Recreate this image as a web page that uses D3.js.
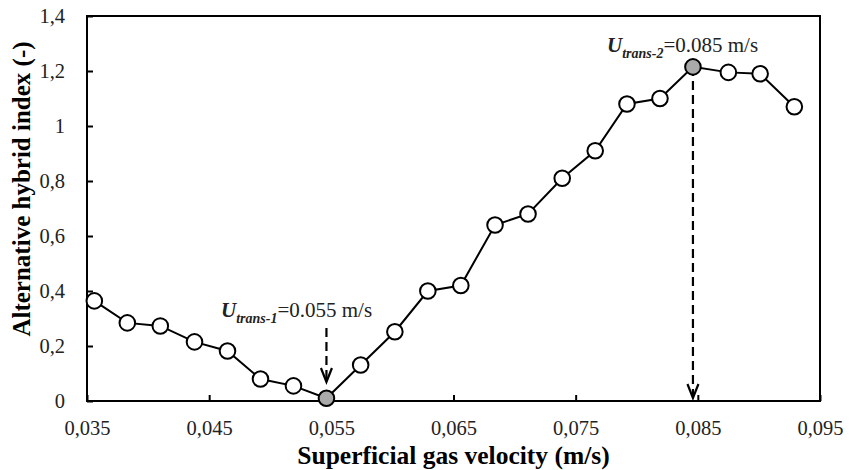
<!DOCTYPE html>
<html>
<head>
<meta charset="utf-8">
<script src="https://cdn.jsdelivr.net/npm/d3@7"></script>
<style>
  html, body { margin: 0; padding: 0; background: #fff; }
  svg { display: block; font-family: "Liberation Serif", "Times New Roman", serif; }
</style>
</head>
<body>
<svg id="chart" width="857" height="470"></svg>
<script>
// data
const velocity = [0.0356, 0.0383, 0.0410, 0.0438, 0.0465, 0.0492, 0.0519, 0.0546, 0.0574, 0.0602, 0.0629,
                  0.0656, 0.0684, 0.0711, 0.0739, 0.0766, 0.0792, 0.0819, 0.0846, 0.0875, 0.0901, 0.0929];
const hybridIndex = [0.364, 0.284, 0.273, 0.215, 0.182, 0.080, 0.055, 0.010, 0.131, 0.252, 0.400,
                     0.420, 0.640, 0.680, 0.810, 0.910, 1.080, 1.100, 1.215, 1.195, 1.190, 1.070];
const transitionIdx = [7, 18];
const transitionLabels = ["0.055", "0.085"];
const xTicks = [0.035, 0.045, 0.055, 0.065, 0.075, 0.085, 0.095];
const yTicks = [0, 0.2, 0.4, 0.6, 0.8, 1, 1.2, 1.4];

const margin = { left: 87, right: 37, top: 16, bottom: 69 };
const width = 857, height = 470;

const svg = d3.select("#chart");

const x = d3.scaleLinear().domain([0.035, 0.095]).range([margin.left, width - margin.right]);
const y = d3.scaleLinear().domain([0, 1.4]).range([height - margin.bottom, margin.top]);

const comma = v => String(v).replace(".", ",");

/* frame */
svg.append("rect")
    .attr("x", x(0.035)).attr("y", y(1.4))
    .attr("width", x(0.095) - x(0.035))
    .attr("height", y(0) - y(1.4))
    .attr("fill", "none").attr("stroke", "#000").attr("stroke-width", 2);

/* axes, ticks pointing inwards */
const xAxis = svg.append("g")
    .attr("transform", `translate(0,${y(0)})`)
    .call(d3.axisBottom(x).tickValues(xTicks).tickSizeInner(-6).tickSizeOuter(0).tickPadding(19).tickFormat(comma));
const yAxis = svg.append("g")
    .attr("transform", `translate(${x(0.035)},0)`)
    .call(d3.axisLeft(y).tickValues(yTicks).tickSizeInner(-6).tickSizeOuter(0).tickPadding(22).tickFormat(comma));

[xAxis, yAxis].forEach(a => {
    a.select(".domain").remove();
    a.selectAll(".tick line").attr("stroke", "#000").attr("stroke-width", 2);
    a.selectAll(".tick text")
        .attr("font-family", "Liberation Serif, serif")
        .attr("font-size", 20.5)
        .attr("fill", "#222");
});

/* axis titles */
svg.append("text")
    .attr("x", (x(0.035) + x(0.095)) / 2)
    .attr("y", 464)
    .attr("text-anchor", "middle")
    .attr("font-size", 25.5).attr("font-weight", "bold")
    .text("Superficial gas velocity (m/s)");

svg.append("text")
    .attr("transform", "translate(30,189) rotate(-90)")
    .attr("text-anchor", "middle")
    .attr("font-size", 25).attr("font-weight", "bold")
    .text("Alternative hybrid index (-)");

/* line */
const pts = velocity.map((v, i) => ({ x: v, y: hybridIndex[i], i }));

svg.append("path")
    .datum(pts)
    .attr("fill", "none").attr("stroke", "#000").attr("stroke-width", 2)
    .attr("d", d3.line().x(d => x(d.x)).y(d => y(d.y)));

/* dashed arrows */
function dashedArrow(xv, y1, y2) {
    const px = x(xv);
    svg.append("line")
        .attr("x1", px).attr("x2", px).attr("y1", y1).attr("y2", y2 - 2)
        .attr("stroke", "#000").attr("stroke-width", 2.2).attr("stroke-dasharray", "9,5");
    svg.append("path")
        .attr("d", `M${px - 5.5},${y2 - 14} L${px},${y2} L${px + 5.5},${y2 - 14}`)
        .attr("fill", "none").attr("stroke", "#000").attr("stroke-width", 2.2);
}
dashedArrow(velocity[transitionIdx[0]], 328, 382);
dashedArrow(velocity[transitionIdx[1]], y(hybridIndex[transitionIdx[1]]), y(0) - 3);

/* markers */
svg.selectAll("circle.pt")
    .data(pts)
    .enter()
    .append("circle")
    .attr("class", "pt")
    .attr("cx", d => x(d.x)).attr("cy", d => y(d.y))
    .attr("r", 7.8)
    .attr("fill", d => transitionIdx.includes(d.i) ? "#aaaaaa" : "#fff")
    .attr("stroke", "#000").attr("stroke-width", 2);

/* annotations */
function annotation(tx, ty, sub, val) {
    const t = svg.append("text").attr("x", tx).attr("y", ty).attr("font-size", 21).attr("fill", "#222");
    t.append("tspan").attr("font-weight", "bold").attr("font-style", "italic").text("U");
    t.append("tspan").attr("font-weight", "bold").attr("font-style", "italic")
        .attr("font-size", 14).attr("dy", 6).text(sub);
    t.append("tspan").attr("dy", -6).text(`=${val} m/s`);
}
annotation(221, 317, "trans-1", transitionLabels[0]);
annotation(607, 52, "trans-2", transitionLabels[1]);
</script>
</body>
</html>
